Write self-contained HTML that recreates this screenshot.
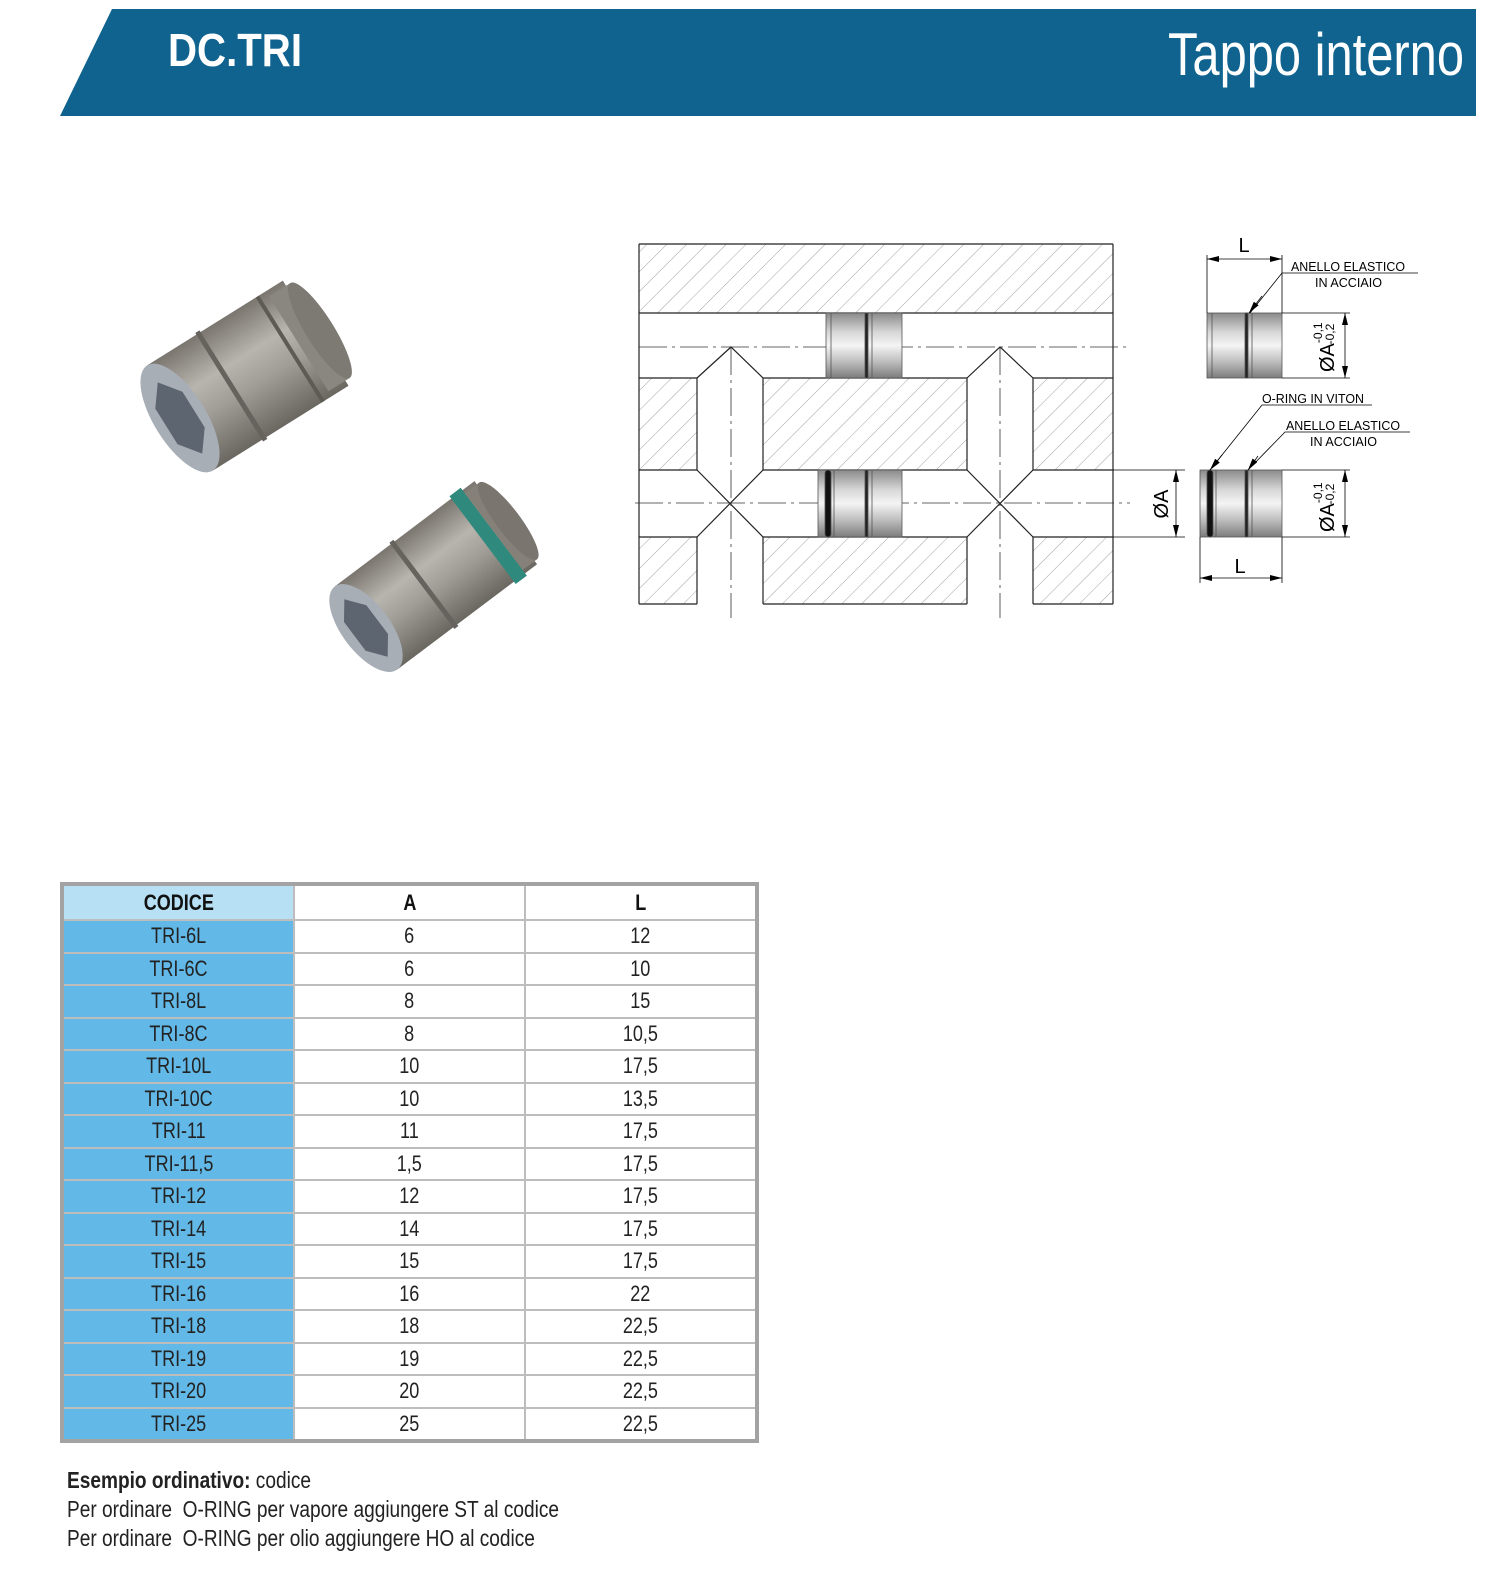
<!DOCTYPE html>
<html><head><meta charset="utf-8">
<style>
html,body{margin:0;padding:0;background:#fff;overflow:hidden;}
body{width:1494px;height:1575px;position:relative;font-family:"Liberation Sans",sans-serif;}
table{position:absolute;left:60px;top:882px;border-collapse:collapse;border:4px solid #a3a3a3;}
td{border:2px solid #bdbdbd;width:229px;height:30.5px;text-align:center;font-size:22px;padding:0;color:#222;}
td span{display:inline-block;transform:scaleX(0.82);}
tr.h td{height:33px;font-weight:bold;color:#111;}
td.c{background:#62b8e6;}
tr.h td.c{background:#b7e0f4;}
.note{position:absolute;left:67px;font-size:23px;color:#222;transform:scaleX(0.83);transform-origin:0 0;white-space:nowrap;}
</style></head><body>
<svg width="1494" height="1575" style="position:absolute;left:0;top:0">
<defs>
<pattern id="hat" width="14" height="14" patternUnits="userSpaceOnUse" patternTransform="rotate(45)">
<line x1="0" y1="0" x2="0" y2="14" stroke="#8a8a8a" stroke-width="0.8"/></pattern>
<linearGradient id="met" x1="0" y1="0" x2="0" y2="1">
<stop offset="0" stop-color="#8a8a8a"/><stop offset="0.3" stop-color="#d8d8d8"/><stop offset="0.5" stop-color="#f4f4f4"/><stop offset="0.75" stop-color="#bdbdbd"/><stop offset="1" stop-color="#7c7c7c"/></linearGradient>
<linearGradient id="ph" x1="0" y1="0" x2="0" y2="1">
<stop offset="0" stop-color="#7a766f"/><stop offset="0.35" stop-color="#b8b4ae"/><stop offset="0.6" stop-color="#a09c96"/><stop offset="1" stop-color="#6a6660"/></linearGradient>
<marker id="ar" markerWidth="12" markerHeight="6" refX="12" refY="3" orient="auto" markerUnits="userSpaceOnUse"><path d="M0,0 L12,3 L0,6z" fill="#000"/></marker>
</defs>
<polygon points="112,9 1476,9 1476,116 60,116" fill="#10638f"/>
<text x="168" y="66" textLength="134" lengthAdjust="spacingAndGlyphs" font-family="Liberation Sans,sans-serif" font-weight="bold" font-size="46" fill="#fff">DC.TRI</text>
<text x="1168" y="75" textLength="296" lengthAdjust="spacingAndGlyphs" font-family="Liberation Sans,sans-serif" font-size="60" fill="#fff">Tappo interno</text>

<g transform="translate(180,418) rotate(-32)">
<rect x="0" y="-62" width="160" height="124" fill="url(#ph)"/>
<rect x="140" y="-56" width="25" height="112" fill="#8a8680"/>
<ellipse cx="165" cy="0" rx="14" ry="56" fill="#7d7973"/>
<rect x="58" y="-64" width="5" height="128" fill="#66625d"/>
<rect x="128" y="-62" width="4" height="124" fill="#5e5a55"/>
<ellipse cx="0" cy="0" rx="26" ry="62" fill="#a8aeb6"/>
<polygon points="0,-42 16,-21 16,21 0,42 -16,21 -16,-21" fill="#5d6570"/>
</g>
<g transform="translate(366,628) rotate(-37)">
<rect x="0" y="-52" width="175" height="104" fill="url(#ph)"/>
<rect x="146" y="-55" width="14" height="110" fill="#2f8a7d"/>
<rect x="160" y="-48" width="18" height="96" fill="#858179"/>
<ellipse cx="178" cy="0" rx="12" ry="48" fill="#7a766f"/>
<rect x="70" y="-54" width="5" height="108" fill="#66625d"/>
<ellipse cx="0" cy="0" rx="24" ry="52" fill="#a8aeb6"/>
<polygon points="0,-36 14,-18 14,18 0,36 -14,18 -14,-18" fill="#5d6570"/>
</g>

<rect x="639" y="244" width="474" height="360" fill="url(#hat)"/>
<rect x="639" y="313" width="474" height="65" fill="#fff"/>
<rect x="639" y="470" width="474" height="67" fill="#fff"/>
<rect x="697" y="378" width="66" height="226" fill="#fff"/>
<rect x="967" y="378" width="66" height="226" fill="#fff"/>
<polygon points="697,378 731,347 763,378" fill="#fff"/>
<polygon points="967,378 1000,347 1033,378" fill="#fff"/>
<g stroke="#222" stroke-width="1.2" fill="none">
<line x1="639" y1="244" x2="1113" y2="244"/><line x1="639" y1="604" x2="697" y2="604"/><line x1="763" y1="604" x2="967" y2="604"/><line x1="1033" y1="604" x2="1113" y2="604"/>
<line x1="639" y1="244" x2="639" y2="604"/><line x1="1113" y1="244" x2="1113" y2="604"/>
<line x1="639" y1="313" x2="1113" y2="313"/><line x1="639" y1="378" x2="697" y2="378"/><line x1="763" y1="378" x2="967" y2="378"/><line x1="1033" y1="378" x2="1113" y2="378"/>
<line x1="639" y1="470" x2="697" y2="470"/><line x1="763" y1="470" x2="967" y2="470"/><line x1="1033" y1="470" x2="1113" y2="470"/>
<line x1="639" y1="537" x2="697" y2="537"/><line x1="763" y1="537" x2="967" y2="537"/><line x1="1033" y1="537" x2="1113" y2="537"/>
<path d="M697,378 V470 M763,378 V470 M697,537 V604 M763,537 V604 M967,378 V470 M1033,378 V470 M967,537 V604 M1033,537 V604"/>
<path d="M697,378 L731,347 L763,378 M967,378 L1000,347 L1033,378"/>
<path d="M697,470 L763,537 M763,470 L697,537 M967,470 L1033,537 M1033,470 L967,537"/>
</g>
<g stroke="#333" stroke-width="0.8" stroke-dasharray="28,5,3,5" fill="none">
<line x1="639" y1="347" x2="1130" y2="347"/><line x1="635" y1="503" x2="1130" y2="503"/>
<line x1="731" y1="347" x2="731" y2="618"/><line x1="1000" y1="347" x2="1000" y2="618"/>
</g>
<g stroke="#555" stroke-width="0.8">
<rect x="826" y="313" width="76" height="65" fill="url(#met)"/>
<line x1="831" y1="313" x2="831" y2="378"/><rect x="865" y="313" width="3" height="65" fill="#222"/><line x1="872" y1="313" x2="872" y2="378"/>
<rect x="818" y="470" width="84" height="67" fill="url(#met)"/>
<rect x="825" y="470" width="6" height="67" rx="3" fill="#111"/><line x1="834" y1="470" x2="834" y2="537"/><rect x="865" y="470" width="3" height="67" fill="#222"/><line x1="872" y1="470" x2="872" y2="537"/>
</g>
<g stroke="#555" stroke-width="0.8">
<rect x="1207" y="313" width="75" height="65" fill="url(#met)"/>
<line x1="1212" y1="313" x2="1212" y2="378"/><rect x="1245" y="313" width="3" height="65" fill="#222"/><line x1="1252" y1="313" x2="1252" y2="378"/>
<rect x="1200" y="470" width="82" height="67" fill="url(#met)"/>
<rect x="1207" y="470" width="6" height="67" rx="3" fill="#111"/><line x1="1216" y1="470" x2="1216" y2="537"/><rect x="1245" y="470" width="3" height="67" fill="#222"/><line x1="1252" y1="470" x2="1252" y2="537"/>
</g>
<g stroke="#000" stroke-width="0.8" fill="none">
<line x1="1207" y1="255" x2="1207" y2="313"/><line x1="1282" y1="255" x2="1282" y2="313"/>
<line x1="1245" y1="259" x2="1207" y2="259" marker-end="url(#ar)"/><line x1="1245" y1="259" x2="1282" y2="259" marker-end="url(#ar)"/>
<line x1="1282" y1="313" x2="1350" y2="313"/><line x1="1282" y1="378" x2="1350" y2="378"/>
<line x1="1345" y1="345" x2="1345" y2="313" marker-end="url(#ar)"/><line x1="1345" y1="345" x2="1345" y2="378" marker-end="url(#ar)"/>
<line x1="1282" y1="470" x2="1350" y2="470"/><line x1="1282" y1="537" x2="1350" y2="537"/>
<line x1="1345" y1="503" x2="1345" y2="470" marker-end="url(#ar)"/><line x1="1345" y1="503" x2="1345" y2="537" marker-end="url(#ar)"/>
<line x1="1113" y1="470" x2="1185" y2="470"/><line x1="1113" y1="537" x2="1185" y2="537"/>
<line x1="1176" y1="503" x2="1176" y2="470" marker-end="url(#ar)"/><line x1="1176" y1="503" x2="1176" y2="537" marker-end="url(#ar)"/>
<line x1="1200" y1="537" x2="1200" y2="583"/><line x1="1282" y1="537" x2="1282" y2="583"/>
<line x1="1240" y1="578" x2="1200" y2="578" marker-end="url(#ar)"/><line x1="1240" y1="578" x2="1282" y2="578" marker-end="url(#ar)"/>
<path d="M1418,273 H1282 L1250,313" /><line x1="1262" y1="296" x2="1249" y2="313" marker-end="url(#ar)"/>
<path d="M1372,405 H1262 L1210,470"/><line x1="1222" y1="455" x2="1210" y2="470" marker-end="url(#ar)"/>
<path d="M1410,432 H1285 L1248,470"/><line x1="1258" y1="456" x2="1248" y2="470" marker-end="url(#ar)"/>
</g>
<g font-family="Liberation Sans,sans-serif" fill="#000">
<text x="1244" y="252" text-anchor="middle" font-size="20">L</text>
<text x="1240" y="573" text-anchor="middle" font-size="20">L</text>
<text x="1291" y="271" font-size="13" textLength="114" lengthAdjust="spacingAndGlyphs">ANELLO ELASTICO</text>
<text x="1315" y="287" font-size="13" textLength="67" lengthAdjust="spacingAndGlyphs">IN ACCIAIO</text>
<text x="1262" y="403" font-size="13" textLength="102" lengthAdjust="spacingAndGlyphs">O-RING IN VITON</text>
<text x="1286" y="430" font-size="13" textLength="114" lengthAdjust="spacingAndGlyphs">ANELLO ELASTICO</text>
<text x="1310" y="446" font-size="13" textLength="67" lengthAdjust="spacingAndGlyphs">IN ACCIAIO</text>
<text transform="translate(1168,504) rotate(-90)" text-anchor="middle" font-size="20">ØA</text>
<text transform="translate(1334,372) rotate(-90)" font-size="20">ØA<tspan font-size="12" dy="-12">-0,1</tspan><tspan font-size="12" dx="-22" dy="12">-0,2</tspan></text>
<text transform="translate(1334,532) rotate(-90)" font-size="20">ØA<tspan font-size="12" dy="-12">-0,1</tspan><tspan font-size="12" dx="-22" dy="12">-0,2</tspan></text>
</g>
</svg>

<table>
<tr class="h"><td class="c"><span>CODICE</span></td><td><span>A</span></td><td><span>L</span></td></tr>
<tr><td class="c"><span>TRI-6L</span></td><td><span>6</span></td><td><span>12</span></td></tr>
<tr><td class="c"><span>TRI-6C</span></td><td><span>6</span></td><td><span>10</span></td></tr>
<tr><td class="c"><span>TRI-8L</span></td><td><span>8</span></td><td><span>15</span></td></tr>
<tr><td class="c"><span>TRI-8C</span></td><td><span>8</span></td><td><span>10,5</span></td></tr>
<tr><td class="c"><span>TRI-10L</span></td><td><span>10</span></td><td><span>17,5</span></td></tr>
<tr><td class="c"><span>TRI-10C</span></td><td><span>10</span></td><td><span>13,5</span></td></tr>
<tr><td class="c"><span>TRI-11</span></td><td><span>11</span></td><td><span>17,5</span></td></tr>
<tr><td class="c"><span>TRI-11,5</span></td><td><span>1,5</span></td><td><span>17,5</span></td></tr>
<tr><td class="c"><span>TRI-12</span></td><td><span>12</span></td><td><span>17,5</span></td></tr>
<tr><td class="c"><span>TRI-14</span></td><td><span>14</span></td><td><span>17,5</span></td></tr>
<tr><td class="c"><span>TRI-15</span></td><td><span>15</span></td><td><span>17,5</span></td></tr>
<tr><td class="c"><span>TRI-16</span></td><td><span>16</span></td><td><span>22</span></td></tr>
<tr><td class="c"><span>TRI-18</span></td><td><span>18</span></td><td><span>22,5</span></td></tr>
<tr><td class="c"><span>TRI-19</span></td><td><span>19</span></td><td><span>22,5</span></td></tr>
<tr><td class="c"><span>TRI-20</span></td><td><span>20</span></td><td><span>22,5</span></td></tr>
<tr><td class="c"><span>TRI-25</span></td><td><span>25</span></td><td><span>22,5</span></td></tr>
</table>

<div class="note" style="top:1467px"><b>Esempio ordinativo:</b> codice</div>
<div class="note" style="top:1496px">Per ordinare&nbsp; O-RING per vapore aggiungere ST al codice</div>
<div class="note" style="top:1525px">Per ordinare&nbsp; O-RING per olio aggiungere HO al codice</div>
</body></html>
